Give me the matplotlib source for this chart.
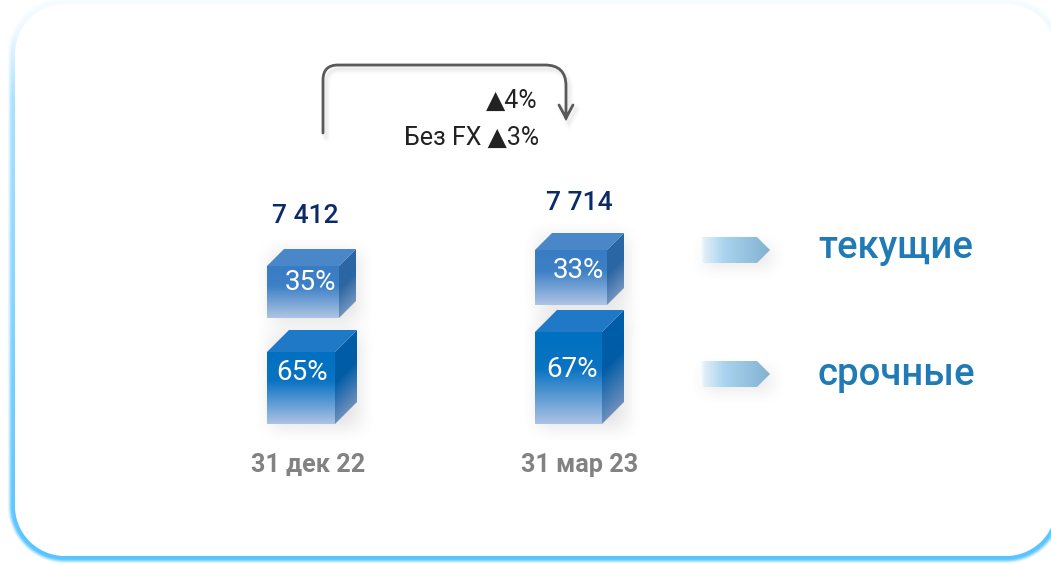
import numpy as np
import matplotlib
matplotlib.use('Agg')
import matplotlib.pyplot as plt
from matplotlib.colors import to_rgb
from matplotlib.patches import Polygon, PathPatch
from matplotlib.path import Path

plt.rcParams['font.family'] = ['Roboto', 'Open Sans', 'DejaVu Sans']

dates = ['31 дек 22', '31 мар 23']
totals = ['7 412', '7 714']
current_share = [35, 33]
term_share = [65, 67]
current_height = [52, 55]
term_height = [72, 92]
legend_labels = ['текущие', 'срочные']
change_labels = ['▲4%', 'Без FX ▲3%']

W, H = 1051, 563
fig = plt.figure(figsize=(W / 100, H / 100), dpi=100)
ax = fig.add_axes([0, 0, 1, 1])
ax.set_xlim(0, W)
ax.set_ylim(H, 0)
ax.autoscale(False)
ax.axis('off')


def smooth(t):
    t = np.clip(t, 0, 1)
    return t * t * (3 - 2 * t)


def rounded_sdf(x, y, x0, x1, y0, y1, r):
    cx, cy = (x0 + x1) / 2, (y0 + y1) / 2
    qx = np.abs(x - cx) - (x1 - x0) / 2 + r
    qy = np.abs(y - cy) - (y1 - y0) / 2 + r
    return np.hypot(np.maximum(qx, 0), np.maximum(qy, 0)) + np.minimum(np.maximum(qx, qy), 0) - r


def draw_panel():
    x, y = np.meshgrid(np.arange(W) + 0.5, np.arange(H) + 0.5)
    d = rounded_sdf(x, y, 15, 1056, 4, 556, 50)
    blue = np.array(to_rgb('#58c4ff'))
    # plateau next to the edge, then a fade out, stronger toward the bottom
    glow = smooth((8 - d) / 5.5) * np.interp(y, [0, 30, 100, 556], [0.05, 0.1, 0.5, 1.0])
    glow = glow * np.clip(d + 0.5, 0, 1)
    img = np.ones((H, W, 3))
    for c in range(3):
        img[..., c] = 1 - glow * (1 - blue[c])
    ax.imshow(img, extent=(0, W, H, 0), aspect='auto', zorder=0, interpolation='nearest')


def soft_box(x0, x1, y0, y1, blur, alpha, color='#555555', zorder=1):
    xs = np.arange(x0 - blur, x1 + blur + 1, dtype=float)
    ys = np.arange(y0 - blur, y1 + blur + 1, dtype=float)
    ax_ = smooth((xs - x0 + blur) / (2 * blur)) * smooth((x1 + blur - xs) / (2 * blur))
    ay_ = smooth((ys - y0 + blur) / (2 * blur)) * smooth((y1 + blur - ys) / (2 * blur))
    rgba = np.zeros((len(ys), len(xs), 4))
    rgba[..., :3] = to_rgb(color)
    rgba[..., 3] = np.outer(ay_, ax_) * alpha
    ax.imshow(rgba, extent=(xs[0], xs[-1], ys[-1], ys[0]), aspect='auto', zorder=zorder, interpolation='bilinear')


def gradient_poly(verts, stops, y_top, height, slope=0.0, x_ref=0.0, zorder=3):
    # colour follows (y - y_top)/height, slope tilts it along the side faces
    verts = np.array(verts, dtype=float)
    x0, y0 = verts.min(axis=0)
    x1, y1 = verts.max(axis=0)
    xs = np.arange(x0, x1 + 1)
    ys = np.arange(y0, y1 + 1)
    gx, gy = np.meshgrid(xs, ys)
    t = np.clip((gy - y_top + (gx - x_ref) * slope) / height, 0, 1)
    pos = [s[0] for s in stops]
    cols = np.array([to_rgb(s[1]) for s in stops])
    img = np.dstack([np.interp(t, pos, cols[:, c]) for c in range(3)])
    im = ax.imshow(img, extent=(x0, x1, y1, y0), aspect='auto', zorder=zorder, interpolation='bilinear')
    clip = Polygon(verts, closed=True, transform=ax.transData, fc='none', ec='none')
    ax.add_patch(clip)
    im.set_clip_path(clip)


LIGHT = {'front': [(0, '#3a7cc3'), (0.38, '#3d80c6'), (1, '#aec4e4')],
         'side': [(0, '#2a66a4'), (0.45, '#2a66a4'), (1, '#7193bd')],
         'top': '#4a87c8'}
DEEP = {'front': [(0, '#0070c0'), (0.4, '#0a73c3'), (1, '#abc2e4')],
        'side': [(0, '#005ca6'), (0.42, '#005ca6'), (1, '#6c8fbc')],
        'top': '#2079c6'}


def cube(x0, x1, bottom, height, depth, style):
    top = bottom - height
    soft_box(x0 + 4, x1 + depth + 2, top - depth + 4, bottom + 3, 18, 0.17)
    front = [(x0, top), (x1, top), (x1, bottom), (x0, bottom)]
    side = [(x1, top), (x1 + depth, top - depth), (x1 + depth, bottom - depth), (x1, bottom)]
    roof = [(x0, top), (x0 + depth, top - depth), (x1 + depth, top - depth), (x1, top)]
    gradient_poly(front, style['front'], top, height)
    gradient_poly(side, style['side'], top, height, slope=1.0, x_ref=x1)
    ax.add_patch(Polygon(roof, closed=True, fc=style['top'], ec='none', zorder=3))


def legend_arrow(yc):
    x0, shoulder, tip = 700, 757, 770
    soft_box(x0 + 4, tip + 2, yc - 4, yc + 17, 16, 0.13)
    verts = [(x0, yc - 13), (shoulder, yc - 13), (tip, yc), (shoulder, yc + 13), (x0, yc + 13)]
    xs = np.arange(x0, tip + 1, dtype=float)
    stops = [0, 0.06, 0.35, 1]
    cols = np.array([to_rgb(c) for c in ['#ffffff', '#dfeef8', '#a9d3ee', '#82b2d1']])
    img = np.dstack([np.interp((xs - x0) / (tip - x0), stops, cols[:, c]) for c in range(3)])
    im = ax.imshow(img, extent=(x0, tip, yc + 13, yc - 13), aspect='auto', zorder=3, interpolation='bilinear')
    clip = Polygon(verts, closed=True, transform=ax.transData, fc='none', ec='none')
    ax.add_patch(clip)
    im.set_clip_path(clip)


def bracket(dx=0, dy=0, **kw):
    l, r, t, rl, rr = 323 + dx, 566 + dx, 65 + dy, 15, 21
    verts = [(l, 133 + dy), (l, t + rl), (l, t), (l + rl, t), (r - rr, t), (r, t), (r, t + rr), (r, 118 + dy),
             (r - 7, 105 + dy), (r, 118 + dy), (r + 7, 105 + dy)]
    codes = [Path.MOVETO, Path.LINETO, Path.CURVE3, Path.CURVE3, Path.LINETO, Path.CURVE3, Path.CURVE3, Path.LINETO,
             Path.MOVETO, Path.LINETO, Path.LINETO]
    ax.add_patch(PathPatch(Path(verts, codes), fc='none', capstyle='round', joinstyle='miter', **kw))


draw_panel()

for w, a in [(9, 0.025), (6, 0.04), (3, 0.05)]:
    bracket(dx=3, dy=4, ec='#666666', lw=w * 0.72, alpha=a, zorder=2)
bracket(ec='#595959', lw=2.0, zorder=4)

ax.text(538, 108, change_labels[0], ha='right', va='baseline', fontsize=18, color='#222222', zorder=5)
ax.text(539, 145, change_labels[1], ha='right', va='baseline', fontsize=18, color='#222222', zorder=5)

x_left = [267, 535]
widths_top = [72, 72]
widths_bottom = [68, 67]
bottoms_top = [318, 305]
label_top_x = [310, 578]
label_bottom_x = [302, 572]
label_top_y = [290, 278]
label_bottom_y = [380, 377]
total_x = [305, 579]
total_y = [223, 210]
date_x = [308, 580]

for i in range(2):
    cube(x_left[i], x_left[i] + widths_bottom[i], 424, term_height[i], 22, DEEP)
    cube(x_left[i], x_left[i] + widths_top[i], bottoms_top[i], current_height[i], 17, LIGHT)
    ax.text(label_top_x[i], label_top_y[i], f'{current_share[i]}%', ha='center', va='baseline',
            fontsize=20, color='white', zorder=6)
    ax.text(label_bottom_x[i], label_bottom_y[i], f'{term_share[i]}%', ha='center', va='baseline',
            fontsize=20, color='white', zorder=6)
    ax.text(total_x[i], total_y[i], totals[i], ha='center', va='baseline', fontsize=19, fontweight=500,
            color='#0b2a68', zorder=6)
    ax.text(date_x[i], 472, dates[i], ha='center', va='baseline', fontsize=18.2, fontweight='bold',
            color='#828282', zorder=6)

for yc, label, ty in zip([250, 374], legend_labels, [258, 385]):
    legend_arrow(yc)
    ax.text(896, ty, label, ha='center', va='baseline', fontsize=27.5, fontweight=500, color='#1f7ab5', zorder=6)

fig.savefig('out.png', dpi=100)
